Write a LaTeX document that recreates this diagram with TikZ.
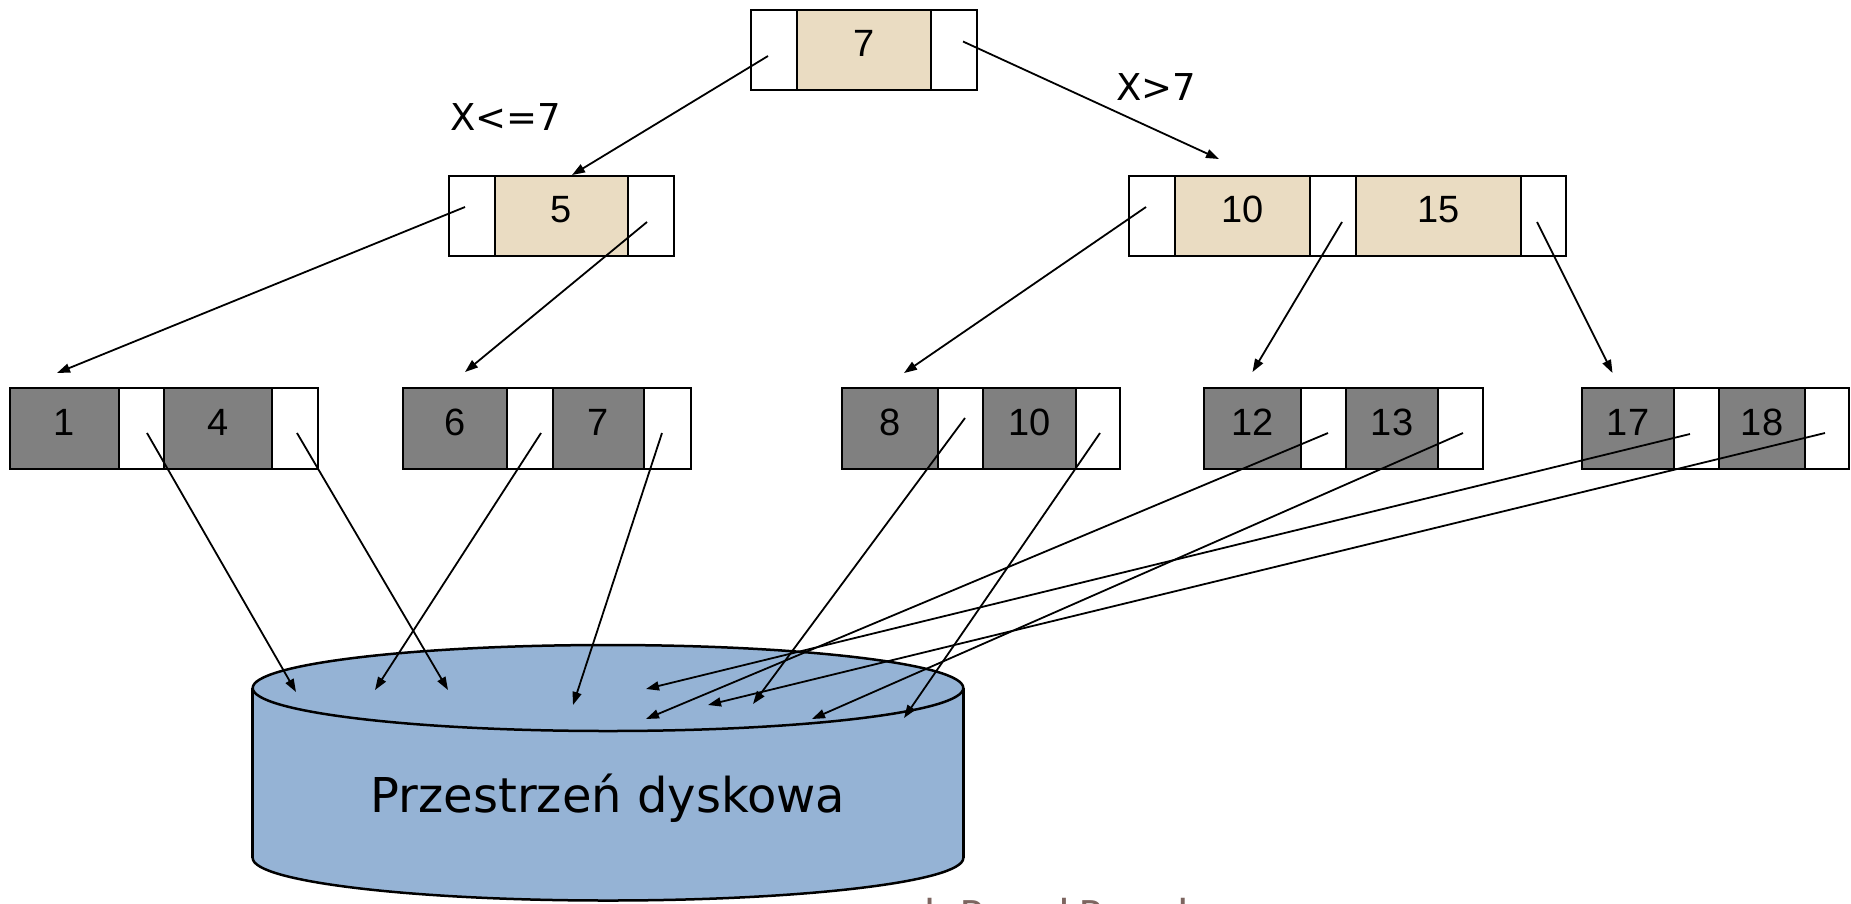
\documentclass[tikz,border=0pt]{standalone}
\usepackage{fontspec}
\setmainfont{Liberation Sans}
\newfontfamily\condfont{DejaVu Sans}
\newfontfamily\creditfont{Carlito}
\usetikzlibrary{arrows.meta}

\definecolor{keytan}{RGB}{234,220,194}
\definecolor{recgray}{RGB}{128,128,128}
\definecolor{diskblue}{RGB}{149,179,213}
\definecolor{creditbrown}{RGB}{125,101,96}

\tikzset{
  cell/.style={draw=black, line width=2.5pt, inner sep=0pt, outer sep=0pt,
    anchor=north west, font=\fontsize{38}{40}\selectfont,
    text height=27pt, text depth=14pt},
  ptrcell/.style={cell, fill=white, minimum width=#1},
  keycell/.style={cell, fill=keytan, minimum width=#1},
  reccell/.style={cell, fill=recgray, minimum width=#1},
  upperrow/.style={minimum height=80pt},
  leafrow/.style={minimum height=81pt},
  ptrarrow/.style={line width=1.8pt, -{Triangle[length=13pt,width=9pt]}},
  diskedge/.style={line width=2.5pt, draw=black},
  condlabel/.style={font=\condfont\fontsize{37}{40}\selectfont, inner sep=0pt, anchor=base},
  disklabel/.style={font=\condfont\fontsize{48}{50}\selectfont, inner sep=0pt, anchor=base},
  credit/.style={font=\creditfont\fontsize{45}{50}\selectfont, text=creditbrown, inner sep=0pt, anchor=base west},
}

\begin{document}
\begin{tikzpicture}[x=1pt, y=-1pt]
\useasboundingbox (0,0) rectangle (1851,903);
\clip (0,0) rectangle (1851,903);

% ---- disk cylinder ----
\fill[diskblue] (252.6,688) rectangle (963.3,858);
\fill[diskblue] (608,858) ellipse (355.3 and 42.5);
\begin{scope}
  \clip (240,858) rectangle (980,910);
  \draw[diskedge] (608,858) ellipse (355.3 and 42.5);
\end{scope}
\draw[diskedge] (252.6,688) -- (252.6,858) (963.3,688) -- (963.3,858);
\draw[diskedge, fill=diskblue] (608,688) ellipse (355.3 and 43);
\node[disklabel] (disk) at (608,812) {Przestrzeń dyskowa};

% ---- root ----
\node[ptrcell=46pt, upperrow] (r1) at (751,10) {};
\node[keycell=134pt, upperrow] (r2) at (797,10) {7};
\node[ptrcell=46pt, upperrow] (r3) at (931,10) {};

% ---- inner node 5 ----
\node[ptrcell=46pt, upperrow] (a1) at (449,176) {};
\node[keycell=133pt, upperrow] (a2) at (495,176) {5};
\node[ptrcell=46pt, upperrow] (a3) at (628,176) {};

% ---- inner node 10 | 15 ----
\node[ptrcell=46pt, upperrow] (b1) at (1129,176) {};
\node[keycell=135pt, upperrow] (b2) at (1175,176) {10};
\node[ptrcell=46pt, upperrow] (b3) at (1310,176) {};
\node[keycell=165pt, upperrow] (b4) at (1356,176) {15};
\node[ptrcell=45pt, upperrow] (b5) at (1521,176) {};

% ---- leaves ----
\node[reccell=109pt, leafrow] (c1) at (10,388) {1};
\node[ptrcell=45pt, leafrow] (c2) at (119,388) {};
\node[reccell=108pt, leafrow] (c3) at (164,388) {4};
\node[ptrcell=46pt, leafrow] (c4) at (272,388) {};

\node[reccell=104pt, leafrow] (d1) at (403,388) {6};
\node[ptrcell=46pt, leafrow] (d2) at (507,388) {};
\node[reccell=91pt, leafrow] (d3) at (553,388) {7};
\node[ptrcell=47pt, leafrow] (d4) at (644,388) {};

\node[reccell=96pt, leafrow] (e1) at (842,388) {8};
\node[ptrcell=45pt, leafrow] (e2) at (938,388) {};
\node[reccell=93pt, leafrow] (e3) at (983,388) {10};
\node[ptrcell=44pt, leafrow] (e4) at (1076,388) {};

\node[reccell=97pt, leafrow] (f1) at (1204,388) {12};
\node[ptrcell=45pt, leafrow] (f2) at (1301,388) {};
\node[reccell=92pt, leafrow] (f3) at (1346,388) {13};
\node[ptrcell=45pt, leafrow] (f4) at (1438,388) {};

\node[reccell=92pt, leafrow] (g1) at (1582,388) {17};
\node[ptrcell=45pt, leafrow] (g2) at (1674,388) {};
\node[reccell=86pt, leafrow] (g3) at (1719,388) {18};
\node[ptrcell=44pt, leafrow] (g4) at (1805,388) {};

% ---- branch conditions ----
\node[condlabel] (le) at (505.5,130) {X<=7};
\node[condlabel] (gt) at (1156.5,100) {X>7};

% ---- tree pointers ----
\draw[ptrarrow] ([shift={(-6,6)}]r1.center) -- ([shift={(10.5,-1)}]a2.north);
\draw[ptrarrow] ([shift={(9,-8.5)}]r3.center) -- ([shift={(-23.5,-17)}]b2.north);
\draw[ptrarrow] ([shift={(-7,-9)}]a1.center) -- ([shift={(-7.5,-15)}]c1.north);
\draw[ptrarrow] ([shift={(-4,6)}]a3.center) -- ([shift={(10,-16)}]d1.north);
\draw[ptrarrow] ([shift={(-6,-9)}]b1.center) -- ([shift={(14,-15)}]e1.north);
\draw[ptrarrow] ([shift={(9,6)}]b3.center) -- ([shift={(0,-16)}]f1.north);
\draw[ptrarrow] ([shift={(-6.5,6)}]b5.center) -- ([shift={(-15.5,-15)}]g1.north);

% ---- record pointers into disk space ----
\coordinate (p1) at (296,692);
\coordinate (p2) at (448,690);
\coordinate (p3) at (375,690);
\coordinate (p4) at (573,705);
\coordinate (p5) at (753,704);
\coordinate (p6) at (904,718);
\coordinate (p7) at (646,719);
\coordinate (p8) at (812,719);
\coordinate (p9) at (646,689);
\coordinate (p10) at (708,705);

\draw[ptrarrow] ([shift={(5.5,4.5)}]c2.center) -- (p1);
\draw[ptrarrow] ([shift={(2,4.5)}]c4.center) -- (p2);
\draw[ptrarrow] ([shift={(11,4.5)}]d2.center) -- (p3);
\draw[ptrarrow] ([shift={(-5.5,4.5)}]d4.center) -- (p4);
\draw[ptrarrow] ([shift={(4.5,-10.5)}]e2.center) -- (p5);
\draw[ptrarrow] ([shift={(2,4.5)}]e4.center) -- (p6);
\draw[ptrarrow] ([shift={(4.5,4.5)}]f2.center) -- (p7);
\draw[ptrarrow] ([shift={(2.5,4.5)}]f4.center) -- (p8);
\draw[ptrarrow] ([shift={(-6.5,5.5)}]g2.center) -- (p9);
\draw[ptrarrow] ([shift={(-2,4.5)}]g4.center) -- (p10);

% ---- footer line, cut by the page edge ----
\node[credit] (foot) at (911,929) {dr Paweł Rzeszk};
\end{tikzpicture}
\end{document}
